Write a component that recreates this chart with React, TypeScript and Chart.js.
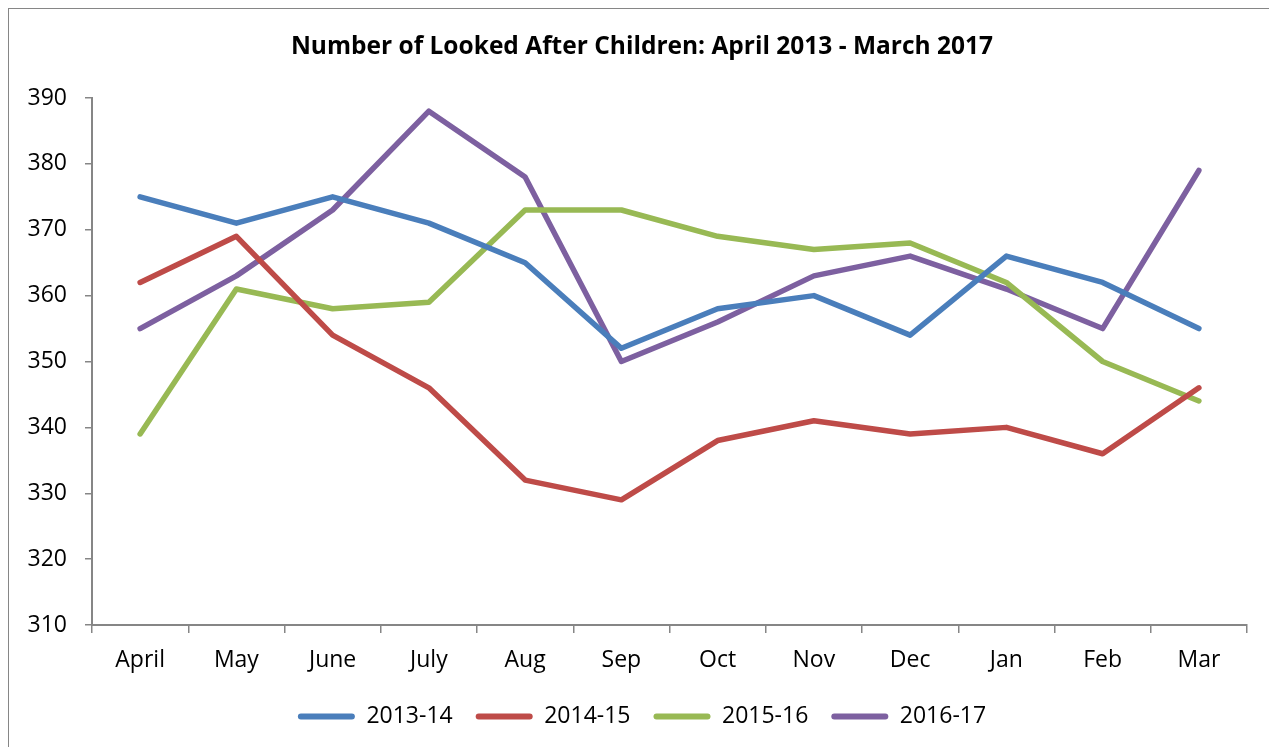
import React, { useEffect, useRef } from "react";
import { Chart, registerables } from "chart.js";

Chart.register(...registerables);

const months = ["April", "May", "June", "July", "Aug", "Sep", "Oct", "Nov", "Dec", "Jan", "Feb", "Mar"];
const y2013_14 = [375, 371, 375, 371, 365, 352, 358, 360, 354, 366, 362, 355];
const y2014_15 = [362, 369, 354, 346, 332, 329, 338, 341, 339, 340, 336, 346];
const y2015_16 = [339, 361, 358, 359, 373, 373, 369, 367, 368, 362, 350, 344];
const y2016_17 = [355, 363, 373, 388, 378, 350, 356, 363, 366, 361, 355, 379];
const seriesNames = ["2013-14", "2014-15", "2015-16", "2016-17"];
const seriesColors = ["#4A7EBB", "#BE4B48", "#98B954", "#7D60A0"];
const titleText = "Number of Looked After Children: April 2013 - March 2017";

const FONT = "'Open Sans', 'DejaVu Sans', sans-serif";
const AXIS = "#868686";

export default function App() {
  const ref = useRef<HTMLCanvasElement | null>(null);

  useEffect(() => {
    document.documentElement.style.overflow = "hidden";
    document.body.style.overflow = "hidden";
    let chart: Chart | null = null;
    let cancelled = false;
    const make = () => {
      if (cancelled || !ref.current) return;
      const values = [y2013_14, y2014_15, y2015_16, y2016_17];
      chart = new Chart(ref.current, {
        type: "line",
        data: {
          labels: months,
          datasets: values.map((v, i) => ({
            label: seriesNames[i],
            data: v,
            yAxisID: "y",
            borderColor: seriesColors[i],
            backgroundColor: seriesColors[i],
            borderWidth: 5.5,
            pointRadius: 0,
            borderJoinStyle: "round" as const,
            borderCapStyle: "round" as const,
            tension: 0,
          })),
        },
        options: {
          animation: false,
          responsive: false,
          maintainAspectRatio: false,
          layout: { padding: { left: 0, right: 0, top: 0, bottom: 11 } },
          font: { family: FONT },
          plugins: {
            tooltip: { enabled: false },
            title: {
              display: true,
              text: titleText,
              color: "#000",
              font: { family: FONT, size: 24.5, weight: "bold" },
              padding: { top: 23.3, bottom: 36.3 },
            },
            legend: {
              display: true,
              position: "bottom",
              labels: {
                color: "#000",
                font: { family: FONT, size: 23 },
                boxWidth: 57,
                boxHeight: 6,
                padding: 23,
                useBorderRadius: true,
                borderRadius: 3,
                generateLabels: (c: any) =>
                  c.data.datasets.map((d: any, i: number) => ({
                    text: d.label,
                    fillStyle: seriesColors[i],
                    strokeStyle: seriesColors[i],
                    lineWidth: 0,
                    hidden: false,
                    datasetIndex: i,
                    borderRadius: 3,
                  })),
              },
            },
          },
          scales: {
            x: {
              type: "category",
              offset: true,
              grid: {
                offset: true,
                drawOnChartArea: false,
                drawTicks: true,
                tickLength: 8,
                color: AXIS,
                lineWidth: 1.5,
              },
              border: { display: true, color: AXIS, width: 2 },
              ticks: {
                color: "#000",
                font: { family: FONT, size: 23 },
                padding: 14,
                maxRotation: 0,
                autoSkip: false,
              },
              afterFit: (s: any) => {
                s.height = 57;
              },
            },
            y: {
              min: 310,
              max: 390,
              grid: {
                drawOnChartArea: false,
                drawTicks: true,
                tickLength: 7,
                color: AXIS,
                lineWidth: 1.5,
              },
              border: { display: true, color: AXIS, width: 2 },
              ticks: {
                stepSize: 10,
                color: "#000",
                font: { family: FONT, size: 23 },
                padding: 18,
              },
              afterFit: (s: any) => {
                s.width = 83;
              },
            },
            yRightSpace: {
              type: "linear",
              position: "right",
              display: true,
              grid: { display: false, drawTicks: false },
              border: { display: false },
              ticks: { display: false },
              afterFit: (s: any) => {
                s.width = 28;
              },
            },
          },
        },
      });
    };
    const loads = [
      (document as any).fonts?.load?.("23px 'Open Sans'"),
      (document as any).fonts?.load?.("bold 24px 'Open Sans'"),
    ].filter(Boolean);
    Promise.all(loads).then(make, make);
    return () => {
      cancelled = true;
      if (chart) chart.destroy();
    };
  }, []);

  return (
    <div
      style={{
        width: 1266,
        height: 740,
        border: `1px solid ${AXIS}`,
        background: "#fff",
        position: "relative",
      }}
    >
      <canvas ref={ref} width={1266} height={740} style={{ display: "block", width: 1266, height: 740 }} />
    </div>
  );
}
